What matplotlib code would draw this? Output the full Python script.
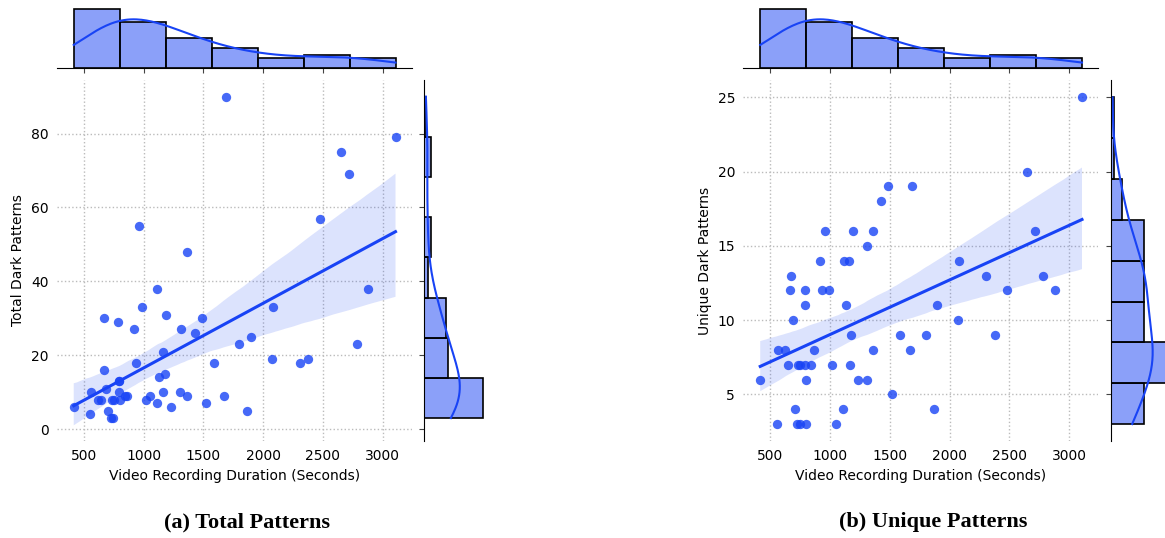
import matplotlib
matplotlib.use('Agg')
import matplotlib.pyplot as plt
import seaborn as sns

# one entry per recorded video (same videos in both panels)
duration = [416, 554, 561, 620, 645, 667, 672, 688, 704, 727, 732, 746, 749, 790, 791,
            793, 797, 799, 841, 863, 920, 935, 962, 991, 1018, 1051, 1109, 1114, 1132,
            1160, 1163, 1177, 1190, 1232, 1307, 1312, 1360, 1361, 1427, 1489, 1519, 1586,
            1670, 1688, 1799, 1869, 1896, 2072, 2082, 2307, 2377, 2478, 2649, 2715, 2784,
            2879, 3108]
total_patterns = [6, 4, 10, 8, 8, 16, 30, 11, 5, 3, 8, 3, 8, 29, 13, 13, 10, 8, 9, 9, 27,
                  18, 55, 33, 8, 9, 7, 38, 14, 21, 10, 15, 31, 6, 10, 27, 48, 9, 26, 30, 7,
                  18, 9, 90, 23, 5, 25, 19, 33, 18, 19, 57, 75, 69, 23, 38, 79]
unique_patterns = [6, 3, 8, 8, 7, 12, 13, 10, 4, 3, 7, 3, 7, 12, 11, 7, 6, 3, 7, 8, 14,
                   12, 16, 12, 7, 3, 4, 14, 11, 14, 7, 9, 16, 6, 6, 15, 16, 8, 18, 19, 5,
                   9, 8, 19, 9, 4, 11, 10, 14, 13, 9, 12, 20, 16, 13, 12, 25]

blue = '#1843f5'
W, H = 1165, 538


def box(x0, y0, x1, y1):
    # pixel box (top-left origin) -> figure fraction rect
    return [x0 / W, 1 - y1 / H, (x1 - x0) / W, (y1 - y0) / H]


def joint(fig, left, y, ylabel, ylim, ybins, caption, cap_x):
    right = left + 355
    ax = fig.add_axes(box(left, 80, right, 441))
    top = fig.add_axes(box(left, 6, right, 68), sharex=ax)
    side = fig.add_axes(box(right + 12, 80, right + 74, 441), sharey=ax)

    sns.regplot(x=duration, y=y, ax=ax, color=blue, seed=0,
                scatter_kws={'s': 45, 'linewidths': 0},
                line_kws={'lw': 2.2})
    ax.set_axisbelow(True)
    ax.grid(True, ls=':', color='#bbbbbb', lw=1)
    for s in ax.spines.values():
        s.set_visible(False)
    ax.tick_params(length=0, labelsize=10, pad=6)
    ax.set_xlabel('Video Recording Duration (Seconds)', fontsize=10)
    ax.set_ylabel(ylabel, fontsize=10)

    hist_kw = dict(kde=True, color=blue, alpha=0.5, edgecolor='black',
                   linewidth=1.2, line_kws={'lw': 1.5})
    sns.histplot(x=duration, bins=7, ax=top, **hist_kw)
    sns.histplot(y=y, bins=ybins, ax=side, **hist_kw)

    for s in ['left', 'right', 'top']:
        top.spines[s].set_visible(False)
    top.tick_params(axis='x', labelbottom=False, length=3.5, color='#444444')
    top.tick_params(axis='y', left=False, labelleft=False)
    top.set_xlabel('')
    top.set_ylabel('')

    for s in ['bottom', 'right', 'top']:
        side.spines[s].set_visible(False)
    side.tick_params(axis='y', labelleft=False, length=3.5, color='#444444')
    side.tick_params(axis='x', bottom=False, labelbottom=False)
    side.set_xlabel('')
    side.set_ylabel('')

    ax.set_xlim(276, 3246)
    ax.set_ylim(*ylim)

    fig.text(cap_x / W, 1 - 522 / H, caption, ha='center', va='center',
             fontsize=16, fontweight='bold', family='Liberation Serif')


fig = plt.figure(figsize=(W / 100, H / 100), dpi=100)
joint(fig, 57, total_patterns, 'Total Dark Patterns', (-3.2, 94.5), 8,
      '(a) Total Patterns', 247)
joint(fig, 743.5, unique_patterns, 'Unique Dark Patterns', (1.86, 26.17), 8,
      '(b) Unique Patterns', 933)
fig.savefig('out.png', dpi=100)
